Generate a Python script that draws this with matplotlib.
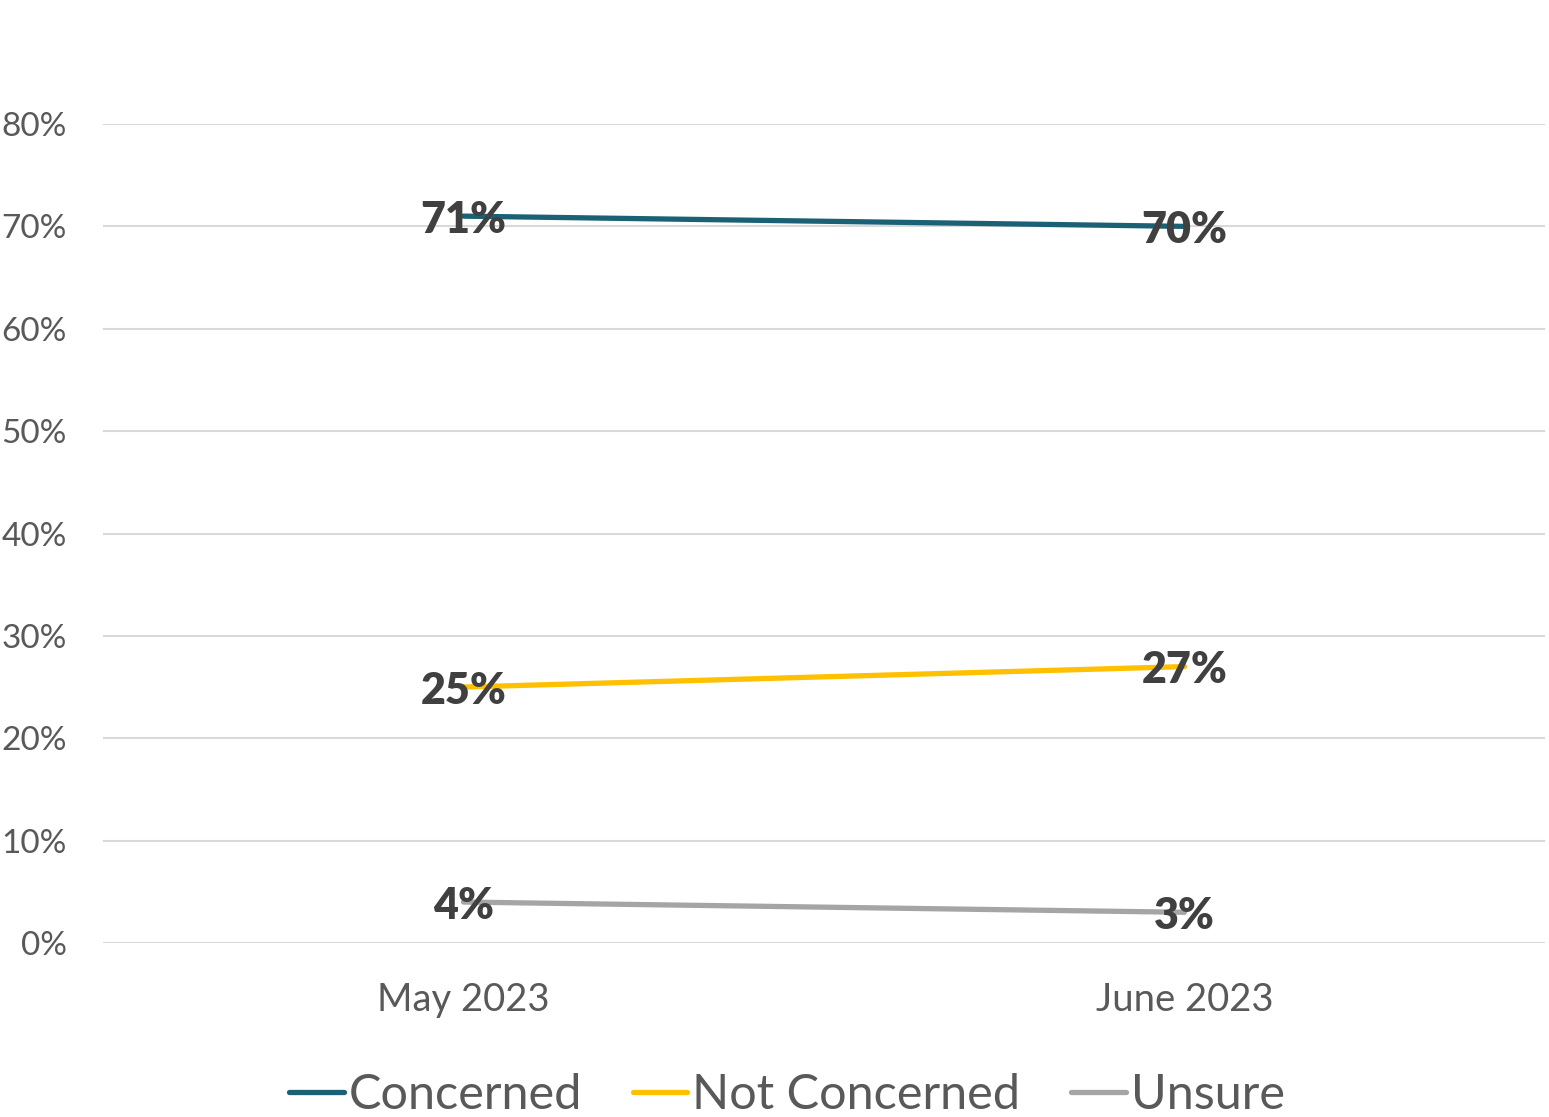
import matplotlib
matplotlib.use("Agg")
import matplotlib.pyplot as plt
from matplotlib.ticker import FuncFormatter, MultipleLocator

plt.rcParams['font.family'] = ['Lato', 'DejaVu Sans']

# Survey results by month
periods = ["May 2023", "June 2023"]
concerned = [0.71, 0.70]
not_concerned = [0.25, 0.27]
unsure = [0.04, 0.03]

series = [
    ("Concerned", concerned, "#1B6175"),
    ("Not Concerned", not_concerned, "#FFC000"),
    ("Unsure", unsure, "#A5A5A5"),
]

fig = plt.figure(figsize=(15.49, 11.17), dpi=100)
ax = fig.add_axes([103 / 1549, 1 - 943 / 1117, (1545 - 103) / 1549, (943 - 124) / 1117])

x = list(range(len(periods)))
for name, vals, color in series:
    ax.plot(x, vals, color=color, lw=3.8, solid_capstyle="round", label=name, zorder=3)
    for xi, v in zip(x, vals):
        ax.text(xi, v, f"{round(v * 100)}%", ha="center", va="center_baseline",
                fontsize=31, fontweight="heavy", color="#404040", zorder=4)

ax.set_xlim(-0.5, 1.5)
ax.set_ylim(0, 0.8)
ax.yaxis.set_major_locator(MultipleLocator(0.1))
ax.yaxis.set_major_formatter(FuncFormatter(lambda v, p: f"{round(v * 100)}%"))
ax.set_xticks(x)
ax.set_xticklabels(periods)
ax.grid(axis="y", color="#D9D9D9", lw=1.5, zorder=0)
ax.set_axisbelow(True)
for s in ax.spines.values():
    s.set_visible(False)
ax.tick_params(axis="y", length=0, pad=26, labelsize=24, labelcolor="#595959")
ax.tick_params(axis="x", length=0, pad=28, labelsize=27.5, labelcolor="#595959")

leg = fig.legend(loc="center", bbox_to_anchor=(787 / 1549, 1 - 1095 / 1117), ncol=3,
                 frameon=False, fontsize=35, handlelength=1.12, handletextpad=0.1,
                 columnspacing=1.05, borderaxespad=0)
for t in leg.get_texts():
    t.set_color("#595959")

fig.savefig("out.png", dpi=100)
